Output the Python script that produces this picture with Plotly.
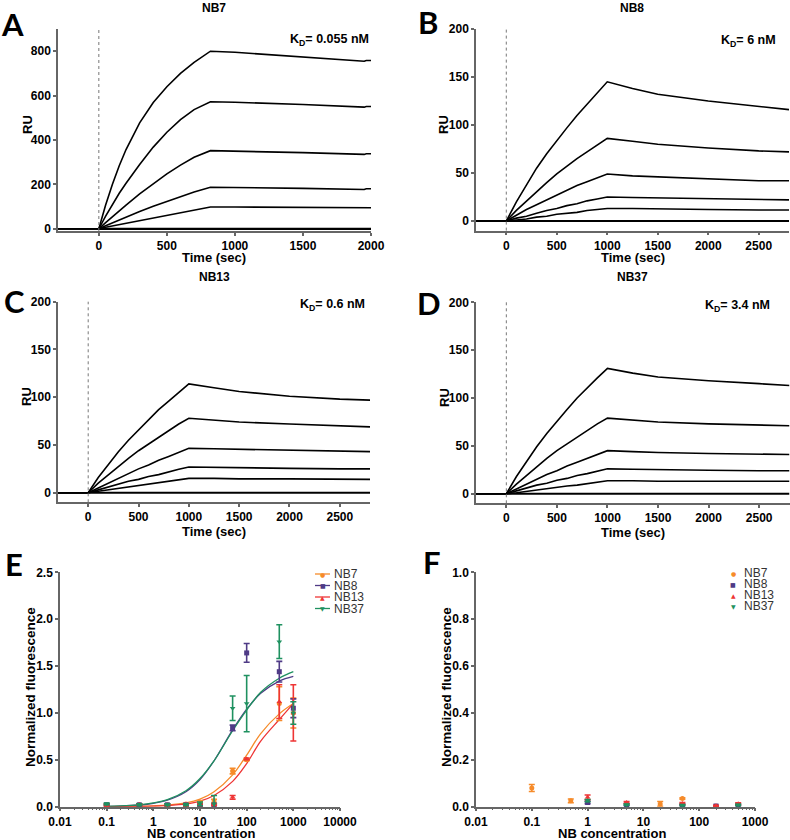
import plotly.graph_objects as go

W, H = 790, 840

# ---------------- SPR sensorgrams ----------------
injection_time = 0

t_A = [-300, 0, 50, 100, 150, 200, 300, 400, 500, 600, 700, 820, 1000, 1500, 1950, 1965, 2000]
nb7_ru_1 = [0, 0, 107, 201, 284, 357, 477, 569, 640, 700, 750, 800, 795, 775, 755, 758, 758]
nb7_ru_2 = [0, 0, 57, 110, 160, 205, 290, 368, 435, 492, 537, 572, 570, 560, 548, 551, 551]
nb7_ru_3 = [0, 0, 28, 55, 82, 107, 157, 204, 247, 287, 322, 352, 350, 343, 335, 338, 338]
nb7_ru_4 = [0, 0, 14, 27, 40, 53, 78, 101, 123, 145, 166, 187, 186, 182, 177, 180, 180]
nb7_ru_5 = [0, 0, 7, 13, 20, 26, 38, 50, 62, 74, 86, 98, 98, 96, 92, 95, 95]

t_BCD = [-300, 0, 100, 200, 300, 400, 500, 600, 700, 800, 900, 1000, 1250, 1500, 2000, 2500, 2800]
nb8_ru_1 = [0, 0, 20, 38, 55, 70, 84, 97, 110, 122, 134, 145, 138, 132, 125, 119, 116]
nb8_ru_2 = [0, 0, 11, 21, 31, 40, 49, 57, 65, 72, 79, 86, 83, 80, 76, 73, 72]
nb8_ru_3 = [0, 0, 6, 12, 17, 22, 27, 32, 37, 41, 45, 49, 47, 46, 44, 42, 42]
nb8_ru_4 = [0, 0, 3, 5, 8, 11, 13, 16, 18, 21, 23, 25, 24.5, 24, 23, 22.5, 22]
nb8_ru_5 = [0, 0, 1, 2, 4, 5, 7, 8, 9, 11, 12, 13, 13, 12.5, 12, 11.5, 11.5]

nb13_ru_1 = [0, 0, 16, 30, 43, 55, 66, 77, 87, 96, 105, 114, 110, 106, 101, 98, 97]
nb13_ru_2 = [0, 0, 10, 19, 28, 36, 44, 51, 58, 65, 72, 78, 76, 74, 72, 70, 69]
nb13_ru_3 = [0, 0, 5, 10, 15, 20, 25, 29, 34, 38, 42, 46.5, 46, 45.5, 44.5, 43.5, 43]
nb13_ru_4 = [0, 0, 3, 6, 9, 12, 14, 17, 19, 22, 24.5, 27, 26.5, 26, 25.5, 25, 25]
nb13_ru_5 = [0, 0, 1.5, 3, 4.5, 6, 7.5, 9, 10.5, 12, 13.5, 15, 15, 14.5, 14.5, 14, 14]

nb37_ru_1 = [0, 0, 18, 34, 49, 63, 76, 88, 100, 111, 121, 131, 126, 122, 118, 115, 113]
nb37_ru_2 = [0, 0, 10, 19, 28, 37, 45, 52, 59, 66, 73, 79, 77, 75, 73, 71.5, 71]
nb37_ru_3 = [0, 0, 5, 10, 15, 20, 24, 29, 33, 37, 41, 45, 44, 43, 42, 41, 41]
nb37_ru_4 = [0, 0, 3, 6, 9, 11, 14, 16, 19, 21, 23.5, 26, 25.5, 25, 24.5, 24, 24]
nb37_ru_5 = [0, 0, 1, 2.5, 4, 5, 6.5, 8, 9, 10.5, 12, 13.5, 13.5, 13, 13, 13, 13]

zero_t_A = [0, 2000]
zero_t_BCD = [0, 2800]
zero_ru = [0, 0]

# ---------------- Panel E: dose response ----------------
series_names = ["NB7", "NB8", "NB13", "NB37"]
series_colors = ["#F68B2A", "#4F3B86", "#EE3535", "#1F9160"]
series_symbols = ["circle", "square", "triangle-up", "triangle-down"]
legend_glyphs = ["●", "■", "▲", "▼"]

conc_E = [0.1, 0.5, 2, 5, 10, 20, 50, 100, 500, 1000]
nb7_E_mean = [0.02, 0.02, 0.02, 0.03, 0.05, 0.06, 0.38, 0.5, 1.1, 1.0]
nb7_E_err = [0.01, 0.01, 0.01, 0.01, 0.01, 0.02, 0.03, 0.01, 0.18, 0.16]
nb8_E_mean = [0.02, 0.02, 0.02, 0.02, 0.01, 0.02, 0.84, 1.64, 1.44, 1.05]
nb8_E_err = [0.01, 0.01, 0.01, 0.01, 0.01, 0.01, 0.03, 0.1, 0.11, 0.1]
nb13_E_mean = [0.01, 0.02, 0.01, 0.01, 0.02, 0.02, 0.1, 0.51, 1.12, 1.0]
nb13_E_err = [0.01, 0.01, 0.01, 0.01, 0.01, 0.01, 0.02, 0.01, 0.18, 0.3]
nb37_E_mean = [0.03, 0.02, 0.02, 0.02, 0.03, 0.03, 1.05, 1.1, 1.76, 1.0]
nb37_E_err = [0.01, 0.01, 0.01, 0.01, 0.02, 0.09, 0.13, 0.3, 0.18, 0.12]

fit_conc = [0.1, 0.2, 0.5, 1, 2, 5, 10, 20, 50, 100, 200, 500, 1000]
nb7_fit = [0.001, 0.002, 0.004, 0.009, 0.017, 0.04, 0.08, 0.16, 0.34, 0.55, 0.78, 0.99, 1.1]
nb8_fit = [0.004, 0.007, 0.018, 0.036, 0.07, 0.16, 0.29, 0.49, 0.82, 1.04, 1.21, 1.34, 1.39]
nb13_fit = [0.001, 0.001, 0.003, 0.006, 0.012, 0.03, 0.06, 0.12, 0.27, 0.46, 0.7, 0.93, 1.1]
nb37_fit = [0.004, 0.008, 0.02, 0.04, 0.075, 0.17, 0.3, 0.49, 0.81, 1.03, 1.22, 1.37, 1.44]

# ---------------- Panel F ----------------
nb7_F_conc = [0.1, 0.5, 20, 50]
nb7_F_mean = [0.08, 0.025, 0.012, 0.035]
nb7_F_err = [0.015, 0.008, 0.01, 0.003]
nb8_F_conc = [1, 5, 50, 200, 500]
nb8_F_mean = [0.018, 0.008, 0.008, 0.003, 0.008]
nb8_F_err = [0.005, 0.003, 0.003, 0.002, 0.003]
nb13_F_conc = [1, 5, 50, 200, 500]
nb13_F_mean = [0.04, 0.018, 0.014, 0.004, 0.013]
nb13_F_err = [0.01, 0.004, 0.004, 0.002, 0.004]
nb37_F_conc = [1, 5, 50, 500]
nb37_F_mean = [0.026, 0.008, 0.006, 0.007]
nb37_F_err = [0.005, 0.003, 0.003, 0.003]

log_tickvals_E = [0.01, 0.1, 1, 10, 100, 1000, 10000]
log_ticktext_E = ["0.01", "0.1", "1", "10", "100", "1000", "10000"]
log_tickvals_F = [0.01, 0.1, 1, 10, 100, 1000]
log_ticktext_F = ["0.01", "0.1", "1", "10", "100", "1000"]

# ---------------- Figure ----------------
FONT = "Liberation Sans"
fig = go.Figure()

spr_panels = [
    ("x", "y", t_A, [nb7_ru_1, nb7_ru_2, nb7_ru_3, nb7_ru_4, nb7_ru_5], zero_t_A),
    ("x2", "y2", t_BCD, [nb8_ru_1, nb8_ru_2, nb8_ru_3, nb8_ru_4, nb8_ru_5], zero_t_BCD),
    ("x3", "y3", t_BCD, [nb13_ru_1, nb13_ru_2, nb13_ru_3, nb13_ru_4, nb13_ru_5], zero_t_BCD),
    ("x4", "y4", t_BCD, [nb37_ru_1, nb37_ru_2, nb37_ru_3, nb37_ru_4, nb37_ru_5], zero_t_BCD),
]
for xa, ya, tt, curves, zt in spr_panels:
    fig.add_trace(go.Scatter(x=zt, y=zero_ru, xaxis=xa, yaxis=ya, mode="lines",
                             line=dict(color="black", width=2.2), showlegend=False,
                             hoverinfo="skip", cliponaxis=False))
    for c in curves:
        fig.add_trace(go.Scatter(x=tt, y=c, xaxis=xa, yaxis=ya, mode="lines",
                                 line=dict(color="black", width=1.6), showlegend=False,
                                 cliponaxis=False))

e_means = [nb7_E_mean, nb8_E_mean, nb13_E_mean, nb37_E_mean]
e_errs = [nb7_E_err, nb8_E_err, nb13_E_err, nb37_E_err]
fits = [nb7_fit, nb8_fit, nb13_fit, nb37_fit]
for i in range(4):
    fig.add_trace(go.Scatter(x=fit_conc, y=fits[i], xaxis="x5", yaxis="y5", mode="lines",
                             line=dict(color=series_colors[i], width=1.3, shape="spline"),
                             showlegend=False))
for i in range(4):
    fig.add_trace(go.Scatter(x=conc_E, y=e_means[i], xaxis="x5", yaxis="y5", mode="markers",
                             marker=dict(color=series_colors[i], symbol=series_symbols[i], size=5),
                             error_y=dict(type="data", array=e_errs[i], color=series_colors[i],
                                          thickness=1.6, width=3),
                             showlegend=False, cliponaxis=False))

f_data = [(nb7_F_conc, nb7_F_mean, nb7_F_err), (nb8_F_conc, nb8_F_mean, nb8_F_err),
          (nb13_F_conc, nb13_F_mean, nb13_F_err), (nb37_F_conc, nb37_F_mean, nb37_F_err)]
for i, (cc, mm, ee) in enumerate(f_data):
    fig.add_trace(go.Scatter(x=cc, y=mm, xaxis="x6", yaxis="y6", mode="markers",
                             marker=dict(color=series_colors[i], symbol=series_symbols[i], size=5),
                             error_y=dict(type="data", array=ee, color=series_colors[i],
                                          thickness=1.6, width=3),
                             showlegend=False, cliponaxis=False))

AX_COL = "#666666"
tickfont = dict(family=FONT, size=12, color="black", weight="bold")


def ax(domain, rng, **kw):
    d = dict(domain=domain, range=rng, showline=True, linecolor=AX_COL, linewidth=1.5,
             ticks="outside", ticklen=3, tickwidth=1.5, tickcolor=AX_COL, automargin=False,
             showgrid=False, zeroline=False, tickfont=tickfont, fixedrange=True)
    d.update(kw)
    return d


def px(v):
    return v / W


def py(v):
    return 1 - v / H


layout = dict(
    width=W, height=H, margin=dict(l=0, r=0, t=0, b=0, pad=0, autoexpand=False),
    paper_bgcolor="white", plot_bgcolor="white", showlegend=False,
    font=dict(family=FONT, color="black"),
    xaxis=ax([px(58), px(371)], [-300, 2000], anchor="y", tickvals=[0, 500, 1000, 1500, 2000]),
    yaxis=ax([py(231), py(29)], [-10, 900], anchor="x", tickvals=[0, 200, 400, 600, 800]),
    xaxis2=ax([px(476), px(789)], [-300, 2800], anchor="y2", tickvals=[0, 500, 1000, 1500, 2000, 2500]),
    yaxis2=ax([py(230.6), py(29)], [-10, 200], anchor="x2", tickvals=[0, 50, 100, 150, 200]),
    xaxis3=ax([px(58), px(370)], [-300, 2800], anchor="y3", tickvals=[0, 500, 1000, 1500, 2000, 2500]),
    yaxis3=ax([py(502.3), py(301.7)], [-10, 200], anchor="x3", tickvals=[0, 50, 100, 150, 200]),
    xaxis4=ax([px(476), px(789.5)], [-300, 2800], anchor="y4", tickvals=[0, 500, 1000, 1500, 2000, 2500]),
    yaxis4=ax([py(503.3), py(302.3)], [-10, 200], anchor="x4", tickvals=[0, 50, 100, 150, 200]),
    xaxis5=ax([px(60), px(340)], [-2, 4], anchor="y5", type="log",
              tickvals=log_tickvals_E, ticktext=log_ticktext_E,
              minor=dict(ticks="outside", ticklen=2, tickwidth=1, tickcolor=AX_COL, dtick="D1")),
    yaxis5=ax([py(806.7), py(572.3)], [0, 2.5], anchor="x5", tickvals=[0, 0.5, 1, 1.5, 2, 2.5],
              ticktext=["0.0", "0.5", "1.0", "1.5", "2.0", "2.5"]),
    xaxis6=ax([px(476), px(755)], [-2, 3], anchor="y6", type="log",
              tickvals=log_tickvals_F, ticktext=log_ticktext_F,
              minor=dict(ticks="outside", ticklen=2, tickwidth=1, tickcolor=AX_COL, dtick="D1")),
    yaxis6=ax([py(806.7), py(572.3)], [0, 1.0], anchor="x6", tickvals=[0, 0.2, 0.4, 0.6, 0.8, 1.0],
              ticktext=["0.0", "0.2", "0.4", "0.6", "0.8", "1.0"]),
)
fig.update_layout(**layout)

# dotted injection lines
for xr, yr in [("x", "y"), ("x2", "y2"), ("x3", "y3"), ("x4", "y4")]:
    fig.add_shape(type="line", xref=xr, yref=yr + " domain", x0=injection_time, x1=injection_time,
                  y0=0, y1=1, line=dict(color="#777777", width=1, dash="dot"))

ann = []


def text(x, y, s, size=13, bold=True, xanchor="center", angle=0, family=FONT, color="black"):
    ann.append(dict(x=px(x), y=py(y), xref="paper", yref="paper", text=s, showarrow=False,
                    xanchor=xanchor, yanchor="middle", textangle=angle,
                    font=dict(family=family, size=size, color=color,
                              weight="bold" if bold else "normal")))


# panel letters
for L, x, y in [("A", 12, 24), ("B", 428, 22), ("C", 14, 301), ("D", 429, 303), ("E", 14, 564), ("F", 432, 562)]:
    text(x, y, L, size=31, family="Lato")

# titles
text(214, 8, "NB7", size=12)
text(632, 8, "NB8", size=12)
text(214, 277, "NB13", size=12)
text(632, 277, "NB37", size=12)

# KD
text(371, 40, "K<sub>D</sub>= 0.055 nM", size=12.5, xanchor="right")
text(778, 41, "K<sub>D</sub>= 6 nM", size=12.5, xanchor="right")
text(367, 305, "K<sub>D</sub>= 0.6 nM", size=12.5, xanchor="right")
text(772, 306, "K<sub>D</sub>= 3.4 nM", size=12.5, xanchor="right")

# axis titles
for x, y in [(27, 125), (443, 125), (26, 397), (444, 398)]:
    text(x, y, "RU", size=13, angle=-90)
for x, y in [(214, 257), (633, 257), (214, 531), (633, 532)]:
    text(x, y, "Time (sec)", size=13)
text(30, 687, "Normalized fluorescence", size=13.5, angle=-90)
text(446, 687, "Normalized fluorescence", size=13.5, angle=-90)
text(201, 833, "NB concentration", size=13)
text(612, 833, "NB concentration", size=13)

# custom legends
rows_E = [574, 585.5, 597, 608.5]
rows_F = [573, 584, 595, 606]
for i in range(4):
    fig.add_shape(type="line", xref="paper", yref="paper", x0=px(315), x1=px(330),
                  y0=py(rows_E[i]), y1=py(rows_E[i]), line=dict(color=series_colors[i], width=1.3))
    text(322.5, rows_E[i], legend_glyphs[i], size=6, bold=False, color=series_colors[i], family="DejaVu Sans")
    text(332, rows_E[i], series_names[i], size=12, bold=False, xanchor="left", color="#333333")
    text(733, rows_F[i], legend_glyphs[i], size=6, bold=False, color=series_colors[i], family="DejaVu Sans")
    text(742, rows_F[i], series_names[i], size=12, bold=False, xanchor="left", color="#333333")

fig.update_layout(annotations=ann)
fig.write_html("out.html", config={"displayModeBar": False},
               post_script="document.body.style.margin='0px';")
